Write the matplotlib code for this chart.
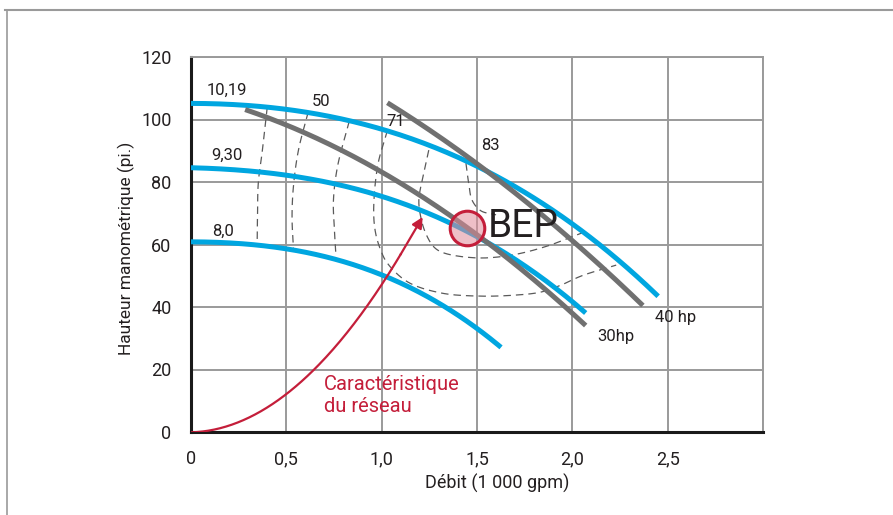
import numpy as np
import matplotlib
matplotlib.use("Agg")
import matplotlib.pyplot as plt
from matplotlib.lines import Line2D

plt.rcParams['font.family'] = ['Roboto', 'DejaVu Sans']

# ---------------- data (flow in 1000 gpm, head in ft) ----------------
xticks = [0, 0.5, 1.0, 1.5, 2.0, 2.5]
xtick_labels = ["0", "0,5", "1,0", "1,5", "2,0", "2,5"]
yticks = [0, 20, 40, 60, 80, 100, 120]

# impeller curves (blue)
imp_1019_q = [0, 0.5, 1.0, 1.31, 1.5, 1.73, 2.0, 2.363, 2.45]
imp_1019_H = [105.3, 102.8, 97.2, 90.2, 85.5, 77.4, 66.0, 48.6, 43.5]
imp_930_q = [0, 0.5, 1.0, 1.31, 1.5, 1.98, 2.07]
imp_930_H = [84.5, 82.4, 75.2, 68.5, 62.0, 44.0, 37.1]
imp_80_q = [0, 0.5, 1.0, 1.31, 1.626]
imp_80_H = [60.8, 58.9, 49.6, 41.5, 26.9]

# power curves (gray)
hp30_q = [0.284, 0.495, 0.995, 1.31, 1.505, 1.96, 2.07]
hp30_H = [102.4, 99.2, 83.8, 72.0, 61.4, 39.7, 34.9]
hp40_q = [1.03, 1.31, 1.626, 2.084, 2.37]
hp40_H = [105.3, 94.0, 80.6, 56.0, 40.8]

# system curve (red)
sys_q = [0, 0.2, 0.4, 0.6, 0.8, 1.0, 1.1, 1.215]
sys_H = [0, 2.0, 7.7, 17.3, 30.5, 47.0, 57.5, 68.8]

# iso-efficiency contours (dashed)
effA_q = [0.40, 0.374, 0.353, 0.349, 0.347]
effA_H = [104.0, 90.0, 79.7, 70.0, 60.5]
effB_q = [0.615, 0.563, 0.537, 0.530, 0.537]
effB_H = [102.5, 90.0, 78.4, 68.8, 58.9]
effC_q = [0.83, 0.768, 0.747, 0.752, 0.76]
effC_H = [99.5, 84.8, 74.0, 65.0, 56.5]
effD_q = [1.03, 0.98, 0.958, 0.968, 0.995, 1.03, 1.137, 1.31, 1.505, 1.70, 1.837, 1.94, 2.05, 2.23]
effD_H = [96.5, 85.5, 71.0, 63.7, 58.2, 54.0, 48.0, 44.5, 43.5, 43.8, 44.8, 47.0, 50.0, 53.4]
effE_q = [1.247, 1.216, 1.195, 1.205, 1.23, 1.274, 1.326, 1.505, 1.68, 1.853, 2.063]
effE_H = [90.2, 81.6, 74.2, 68.8, 63.7, 59.2, 57.3, 55.7, 56.6, 59.2, 64.0]
effF_q = [1.442, 1.458, 1.474, 1.52, 1.60]
effF_H = [86.0, 79.0, 74.2, 70.8, 69.5]

eff_labels = ["50", "71", "83"]
eff_label_q = [0.684, 1.074, 1.568]
eff_label_H = [105.6, 99.2, 91.8]

imp_labels = ["10,19", "9,30", "8,0"]
imp_label_q = [0.19, 0.19, 0.168]
imp_label_H = [109.4, 88.6, 64.3]

bep_q, bep_H = 1.447, 65.3

BLUE = "#00a6e0"
GRAY = "#707070"
RED = "#c41e3a"
DASH = "#5a5a5a"
GRID = "#9a9a9a"
TXT = "#231f20"

SX, SY = 190.0, 3.125  # pixel scale used only for smoothing parametrisation


def smooth(xs, ys, n=30):
    """centripetal Catmull-Rom through the read points"""
    pts = np.column_stack([np.asarray(xs) * SX, np.asarray(ys) * SY]).astype(float)
    P = np.vstack([2 * pts[0] - pts[1], pts, 2 * pts[-1] - pts[-2]])
    out = []
    for i in range(1, len(P) - 2):
        p0, p1, p2, p3 = P[i - 1], P[i], P[i + 1], P[i + 2]
        t0 = 0.0
        t1 = t0 + np.linalg.norm(p1 - p0) ** 0.5
        t2 = t1 + np.linalg.norm(p2 - p1) ** 0.5
        t3 = t2 + np.linalg.norm(p3 - p2) ** 0.5
        t = np.linspace(t1, t2, n, endpoint=False)[:, None]
        A1 = (t1 - t) / (t1 - t0) * p0 + (t - t0) / (t1 - t0) * p1
        A2 = (t2 - t) / (t2 - t1) * p1 + (t - t1) / (t2 - t1) * p2
        A3 = (t3 - t) / (t3 - t2) * p2 + (t - t2) / (t3 - t2) * p3
        B1 = (t2 - t) / (t2 - t0) * A1 + (t - t0) / (t2 - t0) * A2
        B2 = (t3 - t) / (t3 - t1) * A2 + (t - t1) / (t3 - t1) * A3
        C = (t2 - t) / (t2 - t1) * B1 + (t - t1) / (t2 - t1) * B2
        out.append(C)
    out.append(pts[-1:])
    s = np.vstack(out)
    return s[:, 0] / SX, s[:, 1] / SY


def polyline(xs, ys, deg=3):
    c = np.polyfit(xs, ys, deg)
    xx = np.linspace(xs[0], xs[-1], 200)
    return xx, np.polyval(c, xx)


W, H = 893, 515
fig = plt.figure(figsize=(W / 100, H / 100), dpi=100)
ax = fig.add_axes([191 / W, 83 / H, (763 - 191) / W, (432 - 57) / H])

ax.set_xlim(0, 3.0)
ax.set_ylim(0, 120)
ax.set_xticks(xticks)
ax.set_xticklabels(xtick_labels)
ax.set_yticks(yticks)
ax.set_xticks([3.0], minor=True)
ax.tick_params(axis='both', which='both', length=0, labelsize=13, colors=TXT)
ax.tick_params(axis='x', pad=13)
ax.tick_params(axis='y', pad=14)
ax.grid(True, which='both', color=GRID, lw=1.4, zorder=0)
ax.set_axisbelow(True)
for s in ['left', 'bottom']:
    ax.spines[s].set_color('#1a1a1a')
    ax.spines[s].set_linewidth(2.2)
for s in ['top', 'right']:
    ax.spines[s].set_color(GRID)
    ax.spines[s].set_linewidth(1.4)

# dashed efficiency contours
for qq, hh in [(effA_q, effA_H), (effB_q, effB_H), (effC_q, effC_H),
               (effD_q, effD_H), (effE_q, effE_H), (effF_q, effF_H)]:
    xs, ys = smooth(qq, hh)
    ax.plot(xs, ys, color=DASH, lw=0.9, ls=(0, (6, 4)), zorder=2)

# impeller curves
for qq, hh in [(imp_1019_q, imp_1019_H), (imp_930_q, imp_930_H), (imp_80_q, imp_80_H)]:
    xs, ys = polyline(qq, hh, 3)
    ax.plot(xs, ys, color=BLUE, lw=3.6, solid_capstyle='butt', zorder=3)

# power curves
for qq, hh in [(hp30_q, hp30_H), (hp40_q, hp40_H)]:
    xs, ys = polyline(qq, hh, 2)
    ax.plot(xs, ys, color=GRAY, lw=3.6, solid_capstyle='butt', zorder=4)

# system curve with arrow
xs, ys = polyline(sys_q, sys_H, 2)
keep = xs <= sys_q[-2]
ax.plot(xs[keep], ys[keep], color=RED, lw=1.6, zorder=5)
ax.annotate('', xy=(sys_q[-1], sys_H[-1]), xytext=(xs[keep][-1], ys[keep][-1]),
            arrowprops=dict(arrowstyle='-|>', color=RED, lw=1.6, mutation_scale=16,
                            shrinkA=0, shrinkB=0), zorder=5)

# BEP marker
ax.scatter([bep_q], [bep_H], s=620, facecolor=(0.88, 0.55, 0.6, 0.55),
           edgecolor=RED, linewidth=2.2, zorder=6)
ax.text(1.555, 65.8, "BEP", fontsize=28, color=TXT, va='center', ha='left', zorder=7,
        fontweight='normal')

# labels
for lab, qq, hh in zip(eff_labels, eff_label_q, eff_label_H):
    ax.text(qq, hh, lab, fontsize=12, color=TXT, ha='center', va='center', zorder=7)
for lab, qq, hh in zip(imp_labels, imp_label_q, imp_label_H):
    ax.text(qq, hh, lab, fontsize=12, color=TXT, ha='center', va='center', zorder=7)
ax.text(2.23, 30.4, "30hp", fontsize=12, color=TXT, ha='center', va='center', zorder=7)
ax.text(2.54, 36.5, "40 hp", fontsize=12, color=TXT, ha='center', va='center', zorder=7)
ax.text(0.695, 11.8, "Caractéristique\ndu réseau", fontsize=14.5, color=RED,
        ha='left', va='center', linespacing=1.2, zorder=7)

fig.text(497 / W, 1 - 483 / H, "Débit (1 000 gpm)", fontsize=13, color=TXT,
         ha='center', va='center')
fig.text(126 / W, 1 - 248 / H, "Hauteur manométrique (pi.)", fontsize=12.5, color=TXT,
         ha='center', va='center', rotation=90)

# outer frame lines
fig.add_artist(Line2D([5 / W, 1.0], [1 - 9.5 / H, 1 - 9.5 / H], color='#9a9a9a', lw=1.5,
                      transform=fig.transFigure))
fig.add_artist(Line2D([7 / W, 7 / W], [0, 1 - 9.5 / H], color='#9a9a9a', lw=1.2,
                      transform=fig.transFigure))

fig.savefig("out.png", dpi=100)
